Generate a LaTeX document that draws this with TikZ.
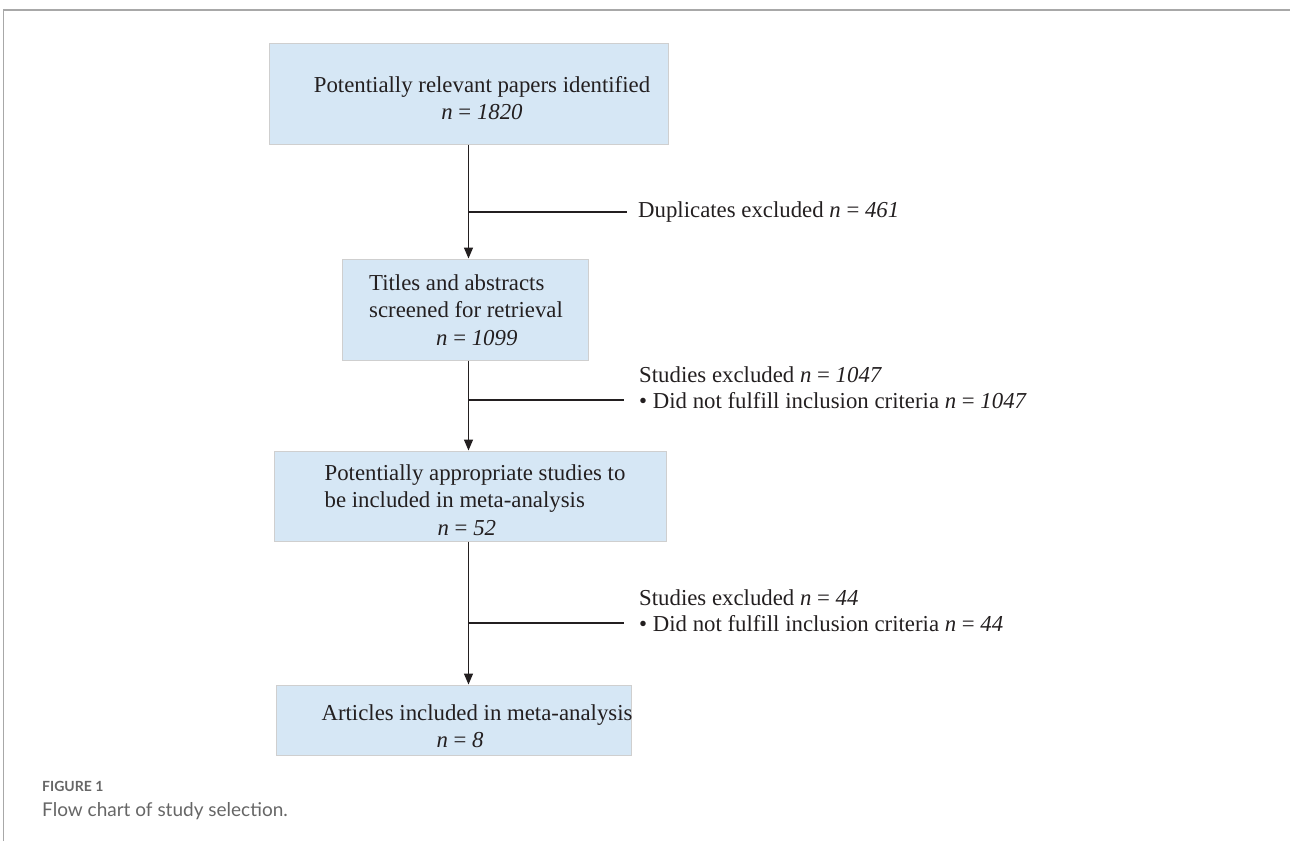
\documentclass[tikz,border=0pt]{standalone}
\usepackage{fontspec}
\setmainfont{Liberation Serif}
\newfontfamily\capfont{Lato}
\usetikzlibrary{arrows.meta}
\definecolor{boxblue}{HTML}{D6E7F5}
\definecolor{boxedge}{HTML}{CFCFCF}
\definecolor{ink}{HTML}{231F20}
\definecolor{framegray}{HTML}{A8A8A8}
\definecolor{capgray}{HTML}{666666}
\newcommand{\nval}[1]{\textit{n} = \textit{#1}}

\begin{document}
\begin{tikzpicture}[x=1pt,y=-1pt,
  box/.style={draw=boxedge, fill=boxblue, line width=1pt, inner sep=0pt},
  boxtext/.style={inner sep=0pt, text=ink, font=\fontsize{22.8}{27.5}\selectfont},
  note/.style={anchor=mid west, inner sep=0pt, text=ink, font=\fontsize{22.8}{27.5}\selectfont},
  flow/.style={ink, line width=1.4pt, -{Triangle[length=11pt,width=9pt]}},
  branch/.style={ink, line width=1.4pt}]
\useasboundingbox (0,0) rectangle (1290,841);
\draw[framegray, line width=1.5pt] (3.5,841) -- (3.5,10) -- (1290,10);

% boxes
\node[box, minimum width=399pt, minimum height=101pt] (box1) at (468.5,93.5) {};
\node[box, minimum width=246pt, minimum height=101pt] (box2) at (465,309.5) {};
\node[box, minimum width=392pt, minimum height=90pt] (box3) at (470,496) {};
\node[box, minimum width=355pt, minimum height=70pt] (box4) at (453.5,720) {};

\node[boxtext, align=center] (t1) at (482,98) {Potentially relevant papers identified\\ \nval{1820}};
\node[boxtext, align=left] (t2) at (466,310) {Titles and abstracts\\ screened for retrieval\\ \hspace*{67pt}\nval{1099}};
\node[boxtext, align=left] (t3) at (475,500) {Potentially appropriate studies to\\ be included in meta-analysis\\ \hspace*{113pt}\nval{52}};
\node[boxtext, align=left] (t4) at (477,726) {Articles included in meta-analysis\\ \hspace*{115pt}\nval{8}};

% exclusions
\node[note] (d1) at (638,215) {Duplicates excluded \nval{461}};
\node[note] (s1a) at (639,380) {Studies excluded \nval{1047}};
\node[note] (s1b) at (639,406) {• Did not fulfill inclusion criteria \nval{1047}};
\node[note] (s2a) at (639,603) {Studies excluded \nval{44}};
\node[note] (s2b) at (639,629) {• Did not fulfill inclusion criteria \nval{44}};

\draw[flow] (box1.south) -- (box1.south |- box2.north);
\draw[flow] (box1.south |- box2.south) -- (box1.south |- box3.north);
\draw[flow] (box1.south |- box3.south) -- (box1.south |- box4.north);
\draw[branch] ([yshift=3pt]box1.south |- d1.mid west) -- ([xshift=-11pt,yshift=3pt]d1.mid west);
\draw[branch] ([yshift=6pt]box1.south |- s1b.mid west) -- ([xshift=-15pt,yshift=6pt]s1b.mid west);
\draw[branch] ([yshift=6pt]box1.south |- s2b.mid west) -- ([xshift=-15pt,yshift=6pt]s2b.mid west);

% caption
\node[anchor=base west, inner sep=0pt, text=capgray, font=\capfont\bfseries\fontsize{14}{16}\selectfont] (figlabel) at (42,791) {FIGURE 1};
\node[anchor=base west, inner sep=0pt, text=capgray, font=\capfont\fontsize{19}{22}\selectfont] (figcaption) at (42,816) {Flow chart of study selection.};
\end{tikzpicture}
\end{document}
